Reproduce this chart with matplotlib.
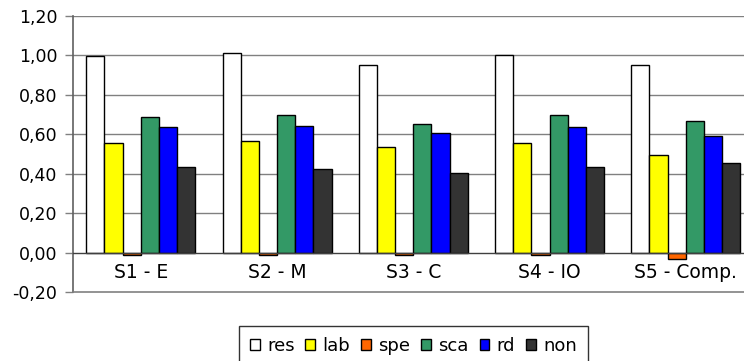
import matplotlib
matplotlib.use("Agg")
import matplotlib.pyplot as plt
from matplotlib.patches import Patch
import numpy as np

# Scores per scenario
categories = ["S1 - E", "S2 - M", "S3 - C", "S4 - IO", "S5 - Comp."]
series_names = ["res", "lab", "spe", "sca", "rd", "non"]
res = [0.995, 1.012, 0.948, 1.003, 0.948]
lab = [0.555, 0.563, 0.533, 0.555, 0.492]
spe = [-0.010, -0.010, -0.010, -0.010, -0.032]
sca = [0.688, 0.696, 0.649, 0.696, 0.666]
rd = [0.634, 0.641, 0.605, 0.634, 0.589]
non = [0.432, 0.423, 0.401, 0.432, 0.454]
y_ticks = [-0.2, 0.0, 0.2, 0.4, 0.6, 0.8, 1.0, 1.2]

colors = ["#FFFFFF", "#FFFF00", "#FF6600", "#339966", "#0000FF", "#333333"]
values = [res, lab, spe, sca, rd, non]

W, H = 744, 361
fig = plt.figure(figsize=(W / 100, H / 100), dpi=100)
ax = fig.add_axes([72.7 / W, 69 / H, (W - 72.7) / W, (292 - 15.7) / H])

x = np.arange(len(categories))
bw = 0.8 / len(series_names)
for i, (vals, col) in enumerate(zip(values, colors)):
    ax.bar(x - 0.4 + bw * (i + 0.5), vals, width=bw, color=col,
           edgecolor="black", linewidth=1.0, zorder=3)

ax.set_xlim(-0.5, 4.427)
ax.set_ylim(-0.2, 1.2)
ax.set_yticks(y_ticks)
ax.set_yticklabels([f"{v:.2f}".replace(".", ",") for v in y_ticks], fontsize=12.5)
ax.tick_params(axis="y", length=6, width=1, color="#808080", pad=5)
ax.set_xticks([])

# gridlines and the zero line
for yv in y_ticks[2:]:
    ax.axhline(yv, color="#808080", linewidth=1, zorder=1)
ax.axhline(0, color="#404040", linewidth=1, zorder=4)

ax.spines["top"].set_visible(False)
ax.spines["right"].set_visible(False)
ax.spines["left"].set_color("#606060")
ax.spines["bottom"].set_color("#808080")
ax.spines["left"].set_linewidth(1.2)
ax.spines["bottom"].set_linewidth(1.2)

for xi, lbl in zip(x, categories):
    ax.text(xi, -0.1, lbl, ha="center", va="center", fontsize=13.5)

handles = [Patch(facecolor=c, edgecolor="black", linewidth=1) for c in colors]
fig.legend(handles, series_names, loc="upper left",
           bbox_to_anchor=(239 / W, 1 - 326 / H), ncol=6, fontsize=13,
           frameon=True, fancybox=False, edgecolor="black",
           handlelength=0.55, handleheight=0.55, handletextpad=0.4,
           columnspacing=0.6, borderpad=0.6, borderaxespad=0)

fig.savefig("out.png", dpi=100)
